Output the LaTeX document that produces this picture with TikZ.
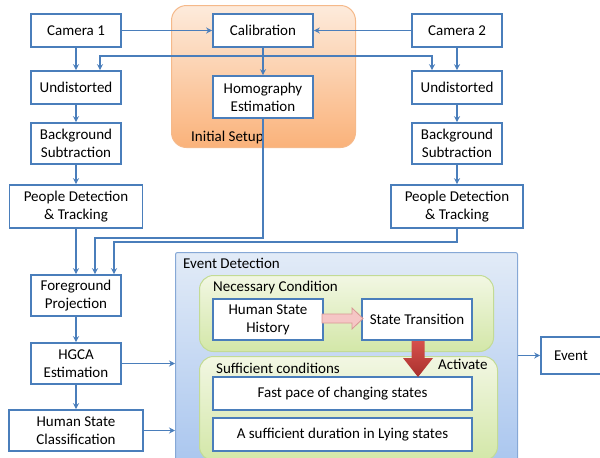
\documentclass[tikz,border=0pt]{standalone}
\usepackage{fontspec}
\setmainfont{Carlito}
\usetikzlibrary{arrows.meta,calc,positioning}
\definecolor{bblue}{HTML}{4A7EBB}
\definecolor{orTop}{HTML}{FDEBDC}
\definecolor{orBot}{HTML}{FAB27A}
\definecolor{orLine}{HTML}{F5B98A}
\definecolor{evTop}{HTML}{E2EBF7}
\definecolor{evBot}{HTML}{A5C3EE}
\definecolor{evLine}{HTML}{86A8D6}
\definecolor{gTop}{HTML}{F2F7E3}
\definecolor{gBot}{HTML}{D3E7A8}
\definecolor{gLine}{HTML}{C3DB95}
\definecolor{pinkF}{HTML}{F5C6C5}
\definecolor{pinkL}{HTML}{D99694}
\definecolor{redTop}{HTML}{D6504C}
\definecolor{redBot}{HTML}{A8302C}
\begin{document}
\begin{tikzpicture}[x=1pt,y=-1pt,
  font=\fontsize{15}{18}\selectfont,
  box/.style={draw=bblue,line width=1.6pt,fill=white,align=center,inner sep=0pt},
  arr/.style={draw=bblue,line width=1.3pt,-{Stealth[length=6pt,width=6pt]}},
  lbl/.style={anchor=west,inner sep=0pt}]
\useasboundingbox (0,0) rectangle (600,458);
% Initial setup panel
\node[draw=orLine,line width=1pt,rounded corners=15pt,top color=orTop,bottom color=orBot,
  minimum width=184pt,minimum height=142pt,anchor=north west] (setup) at (171,5) {};
\node[lbl] (setupl) at (191,137) {Initial Setup};
% Event detection panel
\node[draw=evLine,line width=1pt,rounded corners=2pt,top color=evTop,bottom color=evBot,
  minimum width=342pt,minimum height=230pt,anchor=north west] (ev) at (175,252) {};
\node[lbl] (evl) at (183,263) {Event Detection};
% green panels
\node[draw=gLine,line width=1pt,rounded corners=14pt,top color=gTop,bottom color=gBot,
  minimum width=294pt,minimum height=76pt,anchor=north west] (nec) at (199,275) {};
\node[lbl] (necl) at (213,287) {Necessary Condition};
\node[draw=gLine,line width=1pt,rounded corners=14pt,top color=gTop,bottom color=gBot,
  minimum width=298pt,minimum height=104pt,anchor=north west] (suf) at (199,356) {};
\node[lbl] (sufl) at (216,368) {Sufficient conditions};
% boxes
\node[box,minimum width=90pt,minimum height=33pt] (cam1) at (76,30.5) {Camera 1};
\node[box,minimum width=100pt,minimum height=33pt] (cal) at (263,30.5) {Calibration};
\node[box,minimum width=90pt,minimum height=33pt] (cam2) at (457,30.5) {Camera 2};
\node[box,minimum width=100pt,minimum height=42pt] (hom) at (263,97) {Homography\\Estimation};
\node[box,minimum width=90pt,minimum height=33pt] (undL) at (76,87.5) {Undistorted};
\node[box,minimum width=90pt,minimum height=41pt] (bgL) at (76,143.5) {Background\\Subtraction};
\node[box,minimum width=133pt,minimum height=43pt] (pdL) at (76,206.5) {People Detection\\\& Tracking};
\node[box,minimum width=90pt,minimum height=33pt] (undR) at (457,87.5) {Undistorted};
\node[box,minimum width=90pt,minimum height=41pt] (bgR) at (457,143.5) {Background\\Subtraction};
\node[box,minimum width=132pt,minimum height=43pt] (pdR) at (457,206.5) {People Detection\\\& Tracking};
\node[box,minimum width=90pt,minimum height=41pt] (fg) at (76,295.5) {Foreground\\Projection};
\node[box,minimum width=90pt,minimum height=41pt] (hgca) at (76,363.5) {HGCA\\Estimation};
\node[box,minimum width=134pt,minimum height=41pt] (hsc) at (76,430.5) {Human State\\Classification};
\node[box,minimum width=110pt,minimum height=41pt] (hsh) at (268,319.5) {Human State\\History};
\node[box,minimum width=110pt,minimum height=41pt] (st) at (417,319.5) {State Transition};
\node[box,minimum width=259pt,minimum height=33pt] (fast) at (342.5,393.5) {Fast pace of changing states};
\node[box,minimum width=259pt,minimum height=33pt] (dur) at (342.5,434.5) {A sufficient duration in Lying states};
\node[box,minimum width=60pt,minimum height=37pt] (event) at (571,355.5) {Event};
\node[lbl] (act) at (438,364) {Activate};
% fat arrows
\draw[draw=pinkL,fill=pinkF,line width=0.8pt] (322,314) -- (352,314) -- (352,308) -- (363,318.5)
  -- (352,329) -- (352,323) -- (322,323) -- cycle;
\shade[top color=redTop,bottom color=redBot] (411.5,341) -- (424.5,341) -- (424.5,358) -- (433,358)
  -- (418,377) -- (403,358) -- (411.5,358) -- cycle;
% connectors
\draw[arr] (cam1) -- (cal);
\draw[arr] (cam2) -- (cal);
\draw[arr] (cal) -- (hom);
\coordinate (j) at (263,56);
\draw[arr] (j) -| ([xshift=24pt]undL.north);
\draw[arr] (j) -| ([xshift=-25pt]undR.north);
\draw[arr] (cam1) -- (undL);
\draw[arr] (undL) -- (bgL);
\draw[arr] (bgL) -- (pdL);
\draw[arr] (pdL) -- (fg);
\draw[arr] (cam2) -- (undR);
\draw[arr] (undR) -- (bgR);
\draw[arr] (bgR) -- (pdR);
\draw[arr] (hom.south) -- (hom.south |- 0,238) -| ([xshift=19pt]fg.north);
\draw[arr] (pdR.south) -- (pdR.south |- 0,242) -| ([xshift=38pt]fg.north);
\draw[arr] (fg) -- (hgca);
\draw[arr] (hgca) -- (hsc);
\draw[arr] (hgca.east) -- (hgca.east -| ev.west);
\draw[arr] (hsc.east) -- (hsc.east -| ev.west);
\draw[arr] (event.west -| ev.east) -- (event.west);
\end{tikzpicture}
\end{document}
